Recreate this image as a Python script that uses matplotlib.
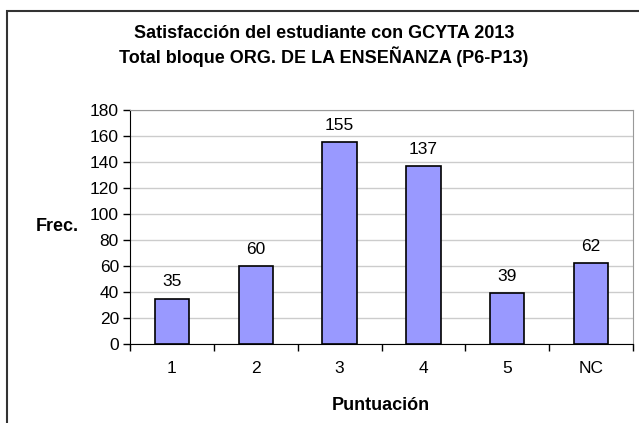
import matplotlib
matplotlib.use("Agg")
import matplotlib.pyplot as plt
from matplotlib.patches import Rectangle

categorias = ["1", "2", "3", "4", "5", "NC"]
frecuencias = [35, 60, 155, 137, 39, 62]
titulo = "Satisfacción del estudiante con GCYTA 2013\nTotal bloque ORG. DE LA ENSEÑANZA (P6-P13)"

plt.rcParams["font.family"] = ["Liberation Sans", "DejaVu Sans"]

W, H = 639, 423
fig = plt.figure(figsize=(W / 100, H / 100), dpi=100)

# marco exterior del gráfico
fig.patches.append(Rectangle((7 / W, -0.1), 1.1, 1 - 11 / H + 0.1, transform=fig.transFigure,
                             fill=False, edgecolor="#333333", linewidth=1.5))

ax = fig.add_axes([130 / W, 1 - 344 / H, (633 - 130) / W, (344 - 110) / H])
x = range(len(categorias))
ax.bar(x, frecuencias, width=0.41, color="#9999FF", edgecolor="black", linewidth=1.2, zorder=3)
for i, v in zip(x, frecuencias):
    ax.text(i, v + 7, str(v), ha="center", va="bottom", fontsize=12.5)

ax.set_xlim(-0.5, len(categorias) - 0.5)
ax.set_ylim(0, 180)
ax.set_yticks(range(0, 181, 20))
ax.tick_params(axis="y", labelsize=12.5, length=5, width=1, pad=3)
ax.set_xticks(list(x))
ax.set_xticklabels(categorias)
ax.set_xticks([i + 0.5 for i in range(-1, len(categorias))], minor=True)
ax.tick_params(axis="x", which="major", length=0, labelsize=12.5, pad=12)
ax.tick_params(axis="x", which="minor", length=5, width=1)
ax.grid(axis="y", color="#cccccc", linewidth=1, zorder=0)

for s in ["top", "right"]:
    ax.spines[s].set_color("#999999")
for s in ["left", "bottom"]:
    ax.spines[s].set_color("black")

fig.text(324 / W, 1 - 46 / H, titulo, ha="center", va="center", fontsize=13,
         fontweight="bold", linespacing=1.2)
fig.text(57 / W, 1 - 226 / H, "Frec.", ha="center", va="center", fontsize=13, fontweight="bold")
fig.text(381 / W, 1 - 405 / H, "Puntuación", ha="center", va="center", fontsize=13, fontweight="bold")

fig.savefig("out.png", dpi=100)
